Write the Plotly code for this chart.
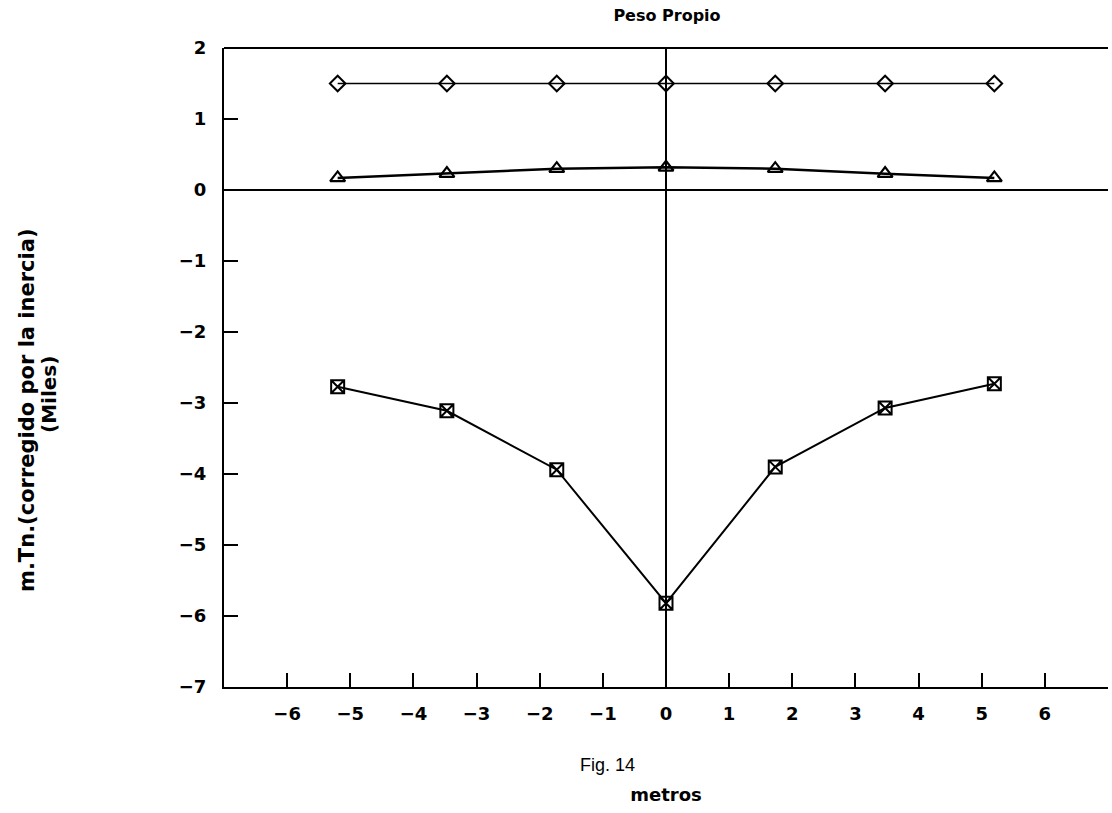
import plotly.graph_objects as go

# Positions along the beam (metres)
posiciones = [-5.2, -3.47, -1.73, 0.0, 1.73, 3.47, 5.2]

# Moments (thousands of m.Tn, corrected for inertia)
serie_rombos = [1.5, 1.5, 1.5, 1.5, 1.5, 1.5, 1.5]
serie_triangulos = [0.17, 0.23, 0.30, 0.32, 0.30, 0.23, 0.17]
serie_cuadros = [-2.77, -3.11, -3.94, -5.82, -3.90, -3.07, -2.73]

x_ticks = [-6, -5, -4, -3, -2, -1, 0, 1, 2, 3, 4, 5, 6]
y_ticks = [-7, -6, -5, -4, -3, -2, -1, 0, 1, 2]

FONT_B = "DejaVu Sans"
FONT_R = "Liberation Sans"

fig = go.Figure()

fig.add_trace(go.Scatter(
    x=posiciones, y=serie_rombos, mode="lines+markers",
    line=dict(color="black", width=1.3),
    marker=dict(symbol="diamond-open", size=12, color="black", line=dict(width=2)),
))
fig.add_trace(go.Scatter(
    x=posiciones, y=serie_triangulos, mode="lines+markers",
    line=dict(color="black", width=2.5),
    marker=dict(symbol="triangle-up-open", size=13, color="black", line=dict(width=2.2)),
))
fig.add_trace(go.Scatter(
    x=posiciones, y=serie_cuadros, mode="lines+markers",
    line=dict(color="black", width=2),
    marker=dict(symbol="square-x-open", size=13, color="black", line=dict(width=2)),
))

bold = dict(family=FONT_B, color="black", weight="bold")

fig.update_layout(
    width=1112, height=813,
    margin=dict(l=224, r=4, t=48, b=126),
    paper_bgcolor="white", plot_bgcolor="white",
    showlegend=False,
    font=dict(family=FONT_B, color="black"),
    title=dict(text="Peso Propio", x=667 / 1112, xanchor="center",
               y=1 - 15 / 813, yanchor="middle",
               font=dict(size=16, **bold)),
)

fig.update_xaxes(
    range=[-7, 7], tickvals=x_ticks,
    ticks="inside", ticklen=14, tickwidth=2, tickcolor="black",
    showline=True, linecolor="black", linewidth=2,
    showgrid=False,
    zeroline=True, zerolinecolor="black", zerolinewidth=1.5,
    tickfont=dict(size=18, **bold),
    ticklabelstandoff=9,
    title=dict(text="metros", standoff=66, font=dict(size=18, **bold)),
)
fig.update_yaxes(
    range=[-7, 2], tickvals=y_ticks,
    ticks="inside", ticklen=14, tickwidth=2, tickcolor="black",
    showline=True, linecolor="black", linewidth=2,
    showgrid=False,
    zeroline=True, zerolinecolor="black", zerolinewidth=1.5,
    tickfont=dict(size=18, **bold),
    ticklabelstandoff=12,
)

# Top frame line
fig.add_shape(type="line", xref="paper", yref="paper", x0=0, x1=1, y0=1, y1=1,
              line=dict(color="black", width=2))

# Vertical axis title, one annotation per line
fig.add_annotation(
    text="m.Tn.(corregido por la inercia)",
    xref="paper", yref="paper", x=(27 - 224) / 884, y=(687 - 410) / 639,
    xanchor="center", yanchor="middle", textangle=-90, showarrow=False,
    font=dict(size=21, **bold),
)
fig.add_annotation(
    text="(Miles)",
    xref="paper", yref="paper", x=(49 - 224) / 884, y=(687 - 395) / 639,
    xanchor="center", yanchor="middle", textangle=-90, showarrow=False,
    font=dict(size=20, **bold),
)

# Figure caption
fig.add_annotation(
    text="Fig. 14", xref="paper", yref="paper",
    x=(607 - 224) / 884, y=-(765 - 687) / 639,
    xanchor="center", yanchor="middle", showarrow=False,
    font=dict(size=18, family=FONT_R, color="black"),
)

fig.write_html("out.html")
